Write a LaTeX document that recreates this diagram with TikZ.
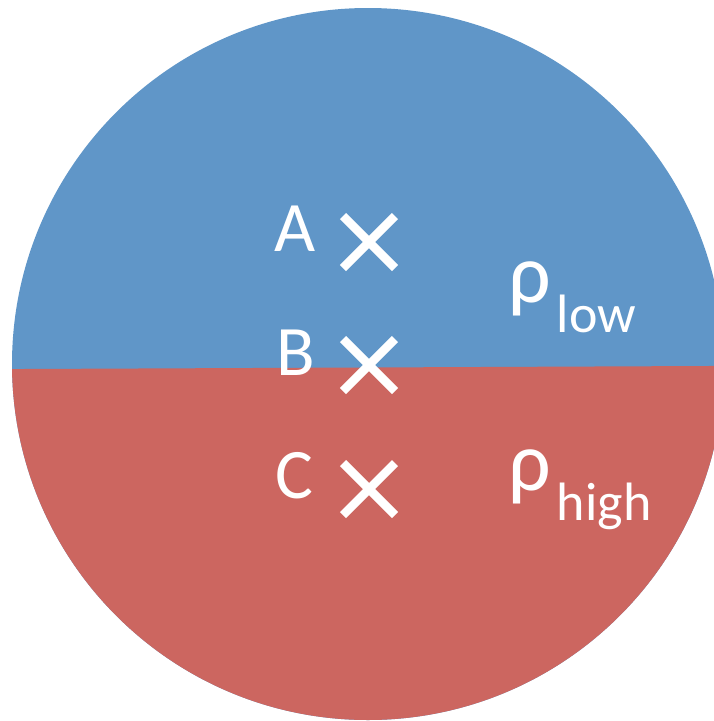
\documentclass[tikz,border=0pt]{standalone}
\usepackage{fontspec}
\setmainfont{Carlito}
\usetikzlibrary{shapes.misc}

\definecolor{lowblue}{RGB}{96,150,200}
\definecolor{highred}{RGB}{204,102,96}
\newcommand{\densub}[1]{\hspace{6pt}\raisebox{-30pt}{\fontsize{54}{54}\selectfont #1}}

\begin{document}
\begin{tikzpicture}[
		x=1pt, y=-1pt,
		point_mark/.style={
			cross out, draw=white, line width=8.5pt, minimum size=52pt,
			inner sep=0pt, outer sep=0pt
		},
		point_label/.style={text=white, anchor=base, inner sep=0pt, font=\fontsize{71}{71}\selectfont},
		density_label/.style={text=white, anchor=base west, inner sep=0pt, font=\fontsize{84}{84}\selectfont}
		]
		\useasboundingbox (0,0) rectangle (714,721);
		\clip (0,0) rectangle (714,721);
		
		% --- DISC (two density regions) ---
		\coordinate (O) at (368,364);
		\fill[lowblue] (O) circle[radius=356];
		\begin{scope}
			\clip (0,369.1) -- (730,365.9) -- (730,730) -- (0,730) -- cycle;
			\fill[highred] (O) circle[radius=356];
		\end{scope}
		
		% --- POINTS ---
		\node[point_mark] (mark_A) at (369,242) {};
		\node[point_mark] (mark_B) at (369,365) {};
		\node[point_mark] (mark_C) at (369,489) {};
		
		\node[point_label] (lab_A) at (295,251) {A};
		\node[point_label] (lab_B) at (296,375) {B};
		\node[point_label] (lab_C) at (294,498) {C};
		
		% --- DENSITY LABELS ---
		\node[density_label] (rho_low) at (508,302) {ρ\densub{low}};
		\node[density_label] (rho_high) at (508,490) {ρ\densub{high}};
		
	\end{tikzpicture}
\end{document}
